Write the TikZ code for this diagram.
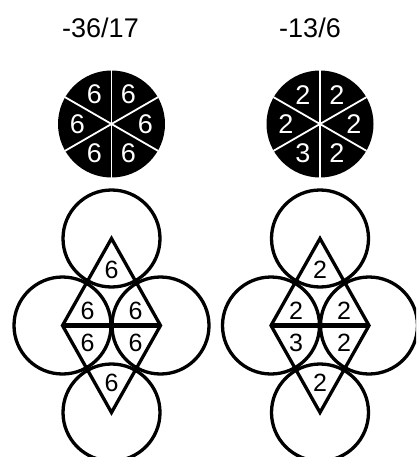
\documentclass[tikz,border=0pt]{standalone}
\usepackage{fontspec}
\setmainfont{Liberation Sans}
\begin{document}
\begin{tikzpicture}[x=1pt,y=-1pt,
  ring/.style={line width=3.3pt},
  edge/.style={line width=3.3pt, line join=miter},
  mid/.style={line width=4.3pt},
  disk/.style={circle, fill=black, minimum size=107pt, inner sep=0pt},
  spoke/.style={white, line width=1.8pt},
  lab/.style={font=\fontsize{25}{25}\selectfont, inner sep=0pt},
  dlab/.style={font=\fontsize{27}{27}\selectfont, text=white, inner sep=0pt},
  ttl/.style={font=\fontsize{27}{27}\selectfont, inner sep=0pt, anchor=base}]
\useasboundingbox (0,0) rectangle (416,457);
\clip (0,0) rectangle (416,457);

% ---------- left figure ----------
\begin{scope}[shift={(111.5,0)}]
  \node[ttl] (Ltitle) at (-11,38) {-36/17};
  \node[disk] (Ldisk) at (0,124) {};
  \draw[spoke] (Ldisk.north) -- (Ldisk.south);
  \draw[spoke] (Ldisk.30) -- (Ldisk.210);
  \draw[spoke] (Ldisk.150) -- (Ldisk.330);
  \node[dlab] (Ld1) at (-17,94.6) {6};
  \node[dlab] (Ld2) at (17,94.6) {6};
  \node[dlab] (Ld3) at (-34,124) {6};
  \node[dlab] (Ld4) at (34,124) {6};
  \node[dlab] (Ld5) at (-17,153.4) {6};
  \node[dlab] (Ld6) at (17,153.4) {6};

  \coordinate (Ltop) at (0,238.5);
  \coordinate (Lleft) at (-49,325.5);
  \coordinate (Lright) at (49,325.5);
  \coordinate (Lbot) at (0,412.5);
  \draw[ring] (Ltop) circle (48.5);
  \draw[ring] (Lleft) circle (48.5);
  \draw[ring] (Lright) circle (48.5);
  \draw[ring] (Lbot) circle (48.5);
  \draw[edge] (Ltop) -- (Lright) -- (Lbot) -- (Lleft) -- cycle;
  \draw[mid] (Lleft) -- (Lright);
  \node[lab] (Lt1) at (0,270) {6};
  \node[lab] (Lt2) at (-24,310.5) {6};
  \node[lab] (Lt3) at (24,310.5) {6};
  \node[lab] (Lt4) at (-24,342.5) {6};
  \node[lab] (Lt5) at (24,342.5) {6};
  \node[lab] (Lt6) at (0,382.5) {6};
\end{scope}

% ---------- right figure ----------
\begin{scope}[shift={(320,0)}]
  \node[ttl] (Rtitle) at (-10,38) {-13/6};
  \node[disk] (Rdisk) at (0,124) {};
  \draw[spoke] (Rdisk.north) -- (Rdisk.south);
  \draw[spoke] (Rdisk.30) -- (Rdisk.210);
  \draw[spoke] (Rdisk.150) -- (Rdisk.330);
  \node[dlab] (Rd1) at (-17,94.6) {2};
  \node[dlab] (Rd2) at (17,94.6) {2};
  \node[dlab] (Rd3) at (-34,124) {2};
  \node[dlab] (Rd4) at (34,124) {2};
  \node[dlab] (Rd5) at (-17,153.4) {3};
  \node[dlab] (Rd6) at (17,153.4) {2};

  \coordinate (Rtop) at (0,238.5);
  \coordinate (Rleft) at (-49,325.5);
  \coordinate (Rright) at (49,325.5);
  \coordinate (Rbot) at (0,412.5);
  \draw[ring] (Rtop) circle (48.5);
  \draw[ring] (Rleft) circle (48.5);
  \draw[ring] (Rright) circle (48.5);
  \draw[ring] (Rbot) circle (48.5);
  \draw[edge] (Rtop) -- (Rright) -- (Rbot) -- (Rleft) -- cycle;
  \draw[mid] (Rleft) -- (Rright);
  \node[lab] (Rt1) at (0,270) {2};
  \node[lab] (Rt2) at (-24,310.5) {2};
  \node[lab] (Rt3) at (24,310.5) {2};
  \node[lab] (Rt4) at (-24,342.5) {3};
  \node[lab] (Rt5) at (24,342.5) {2};
  \node[lab] (Rt6) at (0,382.5) {2};
\end{scope}
\end{tikzpicture}
\end{document}
